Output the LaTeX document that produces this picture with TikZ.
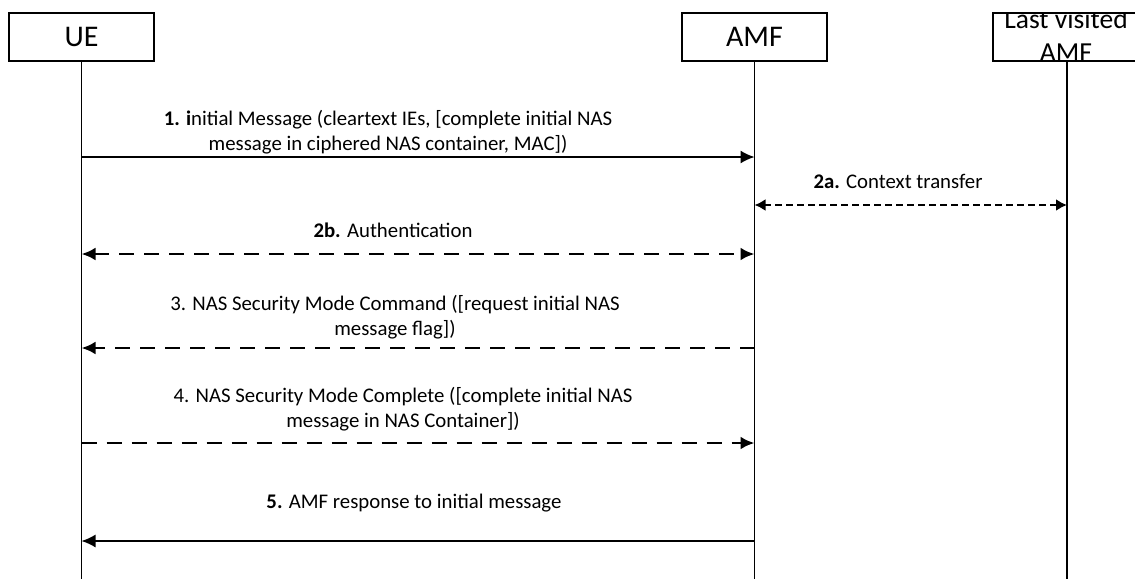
\documentclass[tikz,border=0pt]{standalone}
\usepackage{fontspec}
\setmainfont{Carlito}
\usetikzlibrary{arrows.meta,positioning,calc}

\begin{document}
\begin{tikzpicture}[x=1pt, y=-1pt, >={Latex[length=14pt,width=13pt]},
    entity/.style={draw, line width=1.5pt, minimum height=48pt,
        font=\fontsize{30}{33}\selectfont, inner sep=0pt},
    life/.style={line width=1.5pt},
    msg/.style={line width=1.5pt},
    dmsg/.style={line width=2.8pt, dash pattern=on 15pt off 10pt},
    smsg/.style={line width=2.6pt, dash pattern=on 7pt off 4pt,
        >={Latex[length=11pt,width=12pt]}},
    lbl/.style={font=\fontsize{20.8}{25}\selectfont, align=center, inner sep=0pt}]
    \useasboundingbox (0,0) rectangle (1135,579);
    % participants
    \node [entity, minimum width=145pt] (UE)  at (81.5,37)  {UE};
    \node [entity, minimum width=145pt] (AMF) at (754.5,37) {AMF};
    \node [entity, minimum width=148pt] (LAMF) at (1067,37) {};
    \begin{scope}
        \clip (LAMF.north west) rectangle (LAMF.south east);
        \node [font=\fontsize{27.5}{33}\selectfont, align=center, inner sep=0pt] (LAMFtxt)
            at (1066,35) {Last visited\\AMF};
    \end{scope}
    % lifelines
    \coordinate (UEend)   at (UE |- 0,579);
    \coordinate (AMFend)  at (AMF |- 0,579);
    \coordinate (LAMFend) at (LAMF |- 0,579);
    \draw [life] (UE.south)   -- (UEend);
    \draw [life] (AMF.south)  -- (AMFend);
    \draw [life] (LAMF.south) -- (LAMFend);
    % message points
    \foreach \n/\y in {1/157, 2a/205, 2b/254, 3/348, 4/443, 5/541} {
        \coordinate (ue\n)   at (UE |- 0,\y);
        \coordinate (amf\n)  at (AMF |- 0,\y);
        \coordinate (lamf\n) at (LAMF |- 0,\y);
    }
    % messages
    \draw [msg, ->]   (ue1)   -- (amf1);
    \draw [smsg, <->] (amf2a) -- (lamf2a);
    \draw [dmsg, <->] (ue2b)  -- (amf2b);
    \draw [dmsg, ->]  (amf3)  -- (ue3);
    \draw [dmsg, ->]  (ue4)   -- (amf4);
    \draw [msg, ->]   (amf5)  -- (ue5);
    % labels
    \node [lbl] (l1)  at (388,132) {\textbf{1. i}nitial Message (cleartext IEs, [complete initial NAS\\message in ciphered NAS container, MAC])};
    \node [lbl] (l2a) at (898,181) {\textbf{2a.} Context transfer};
    \node [lbl] (l2b) at (393,230) {\textbf{2b.} Authentication};
    \node [lbl] (l3)  at (395,317) {3. NAS Security Mode Command ([request initial NAS\\message flag])};
    \node [lbl] (l4)  at (403,409) {4. NAS Security Mode Complete ([complete initial NAS\\message in NAS Container])};
    \node [lbl] (l5)  at (414,503) {\textbf{5.} AMF response to initial message};
\end{tikzpicture}
\end{document}
